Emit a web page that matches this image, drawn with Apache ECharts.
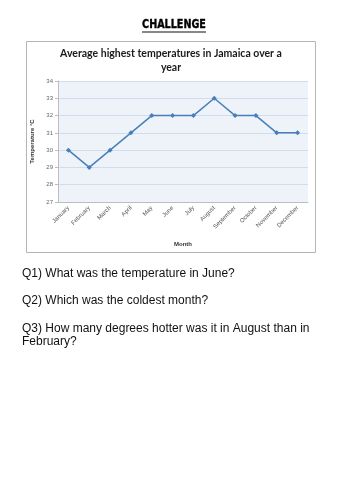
<!DOCTYPE html>
<html>
<head>
<meta charset="utf-8">
<script src="https://cdn.jsdelivr.net/npm/echarts@6/dist/echarts.min.js"></script>
<style>
  html, body { margin: 0; padding: 0; background: #fff; }
  #chart { width: 354px; height: 500px; }
</style>
</head>
<body>
<div id="chart"></div>
<script>
// values
var months = ['January', 'February', 'March', 'April', 'May', 'June', 'July',
              'August', 'September', 'October', 'November', 'December']
var temps = [30, 29, 30, 31, 32, 32, 32, 33, 32, 32, 31, 31]
var chartTitle = 'Average highest temperatures in Jamaica over a\nyear'
var questions = [
    'Q1) What was the temperature in June?',
    'Q2) Which was the coldest month?',
    'Q3) How many degrees hotter was it in August than in\nFebruary?'
]

var chart = echarts.init(document.getElementById('chart'), null, {renderer: 'canvas'})

var qFont = '12px "Liberation Sans", Arial, sans-serif'

var option = {
    backgroundColor: '#fff',
    animation: false,
    grid: {
        left: 58,
        top: 81,
        width: 250,
        height: 121,
        show: true,
        backgroundColor: '#eef3f9',
        borderWidth: 0
    },
    xAxis: {
        type: 'category',
        data: months,
        name: 'Month',
        nameLocation: 'middle',
        nameGap: 39,
        nameTextStyle: {fontFamily: 'Liberation Sans', fontSize: 6, fontWeight: 'bold', color: '#333'},
        axisLine: {lineStyle: {color: '#bdbdbd'}},
        axisTick: {show: false},
        axisLabel: {
            rotate: 45,
            interval: 0,
            margin: 5,
            fontFamily: 'Liberation Sans',
            fontSize: 6,
            color: '#555'
        }
    },
    yAxis: {
        type: 'value',
        min: 27,
        max: 34,
        interval: 1,
        name: 'Temperature °C',
        nameLocation: 'middle',
        nameGap: 20,
        nameRotate: 90,
        nameTextStyle: {fontFamily: 'Liberation Sans', fontSize: 6, fontWeight: 'bold', color: '#333'},
        axisLine: {show: true, lineStyle: {color: '#bdbdbd'}},
        axisTick: {show: true, length: 3, lineStyle: {color: '#bdbdbd'}},
        axisLabel: {margin: 5, fontFamily: 'Liberation Sans', fontSize: 6, color: '#666'},
        splitLine: {lineStyle: {color: '#d0ddef', width: 1}}
    },
    series: [{
        type: 'line',
        data: temps,
        symbol: 'diamond',
        symbolSize: 5,
        itemStyle: {color: '#4a7ebb'},
        lineStyle: {color: '#4a7ebb', width: 1.5}
    }],
    graphic: [
        {
            type: 'rect',
            shape: {x: 26.5, y: 41.5, width: 289, height: 211},
            style: {fill: null, stroke: '#b5b5b5', lineWidth: 1},
            z: -1
        },
        {
            type: 'text',
            x: 171,
            y: 47,
            style: {
                text: chartTitle,
                font: 'bold 10.5px Lato, sans-serif',
                lineHeight: 14,
                fill: '#1a1a1a',
                align: 'center'
            }
        },
        {
            // heavy display font in the original, squeezed DejaVu bold here
            type: 'text',
            x: 174,
            y: 25,
            scaleX: 0.8,
            style: {
                text: 'CHALLENGE',
                font: 'bold 12px "DejaVu Sans", sans-serif',
                fill: '#000',
                stroke: '#000',
                lineWidth: 0.4,
                align: 'center',
                verticalAlign: 'middle'
            }
        },
        {
            type: 'line',
            shape: {x1: 142, y1: 32, x2: 206, y2: 32},
            style: {stroke: '#111', lineWidth: 1.2}
        },
        {
            type: 'text',
            x: 22,
            y: 268,
            style: {text: questions[0], font: qFont, fill: '#111'}
        },
        {
            type: 'text',
            x: 22,
            y: 295,
            style: {text: questions[1], font: qFont, fill: '#111'}
        },
        {
            type: 'text',
            x: 22,
            y: 322,
            style: {text: questions[2], font: qFont, lineHeight: 13, fill: '#111'}
        }
    ]
}

chart.setOption(option)
</script>
</body>
</html>
